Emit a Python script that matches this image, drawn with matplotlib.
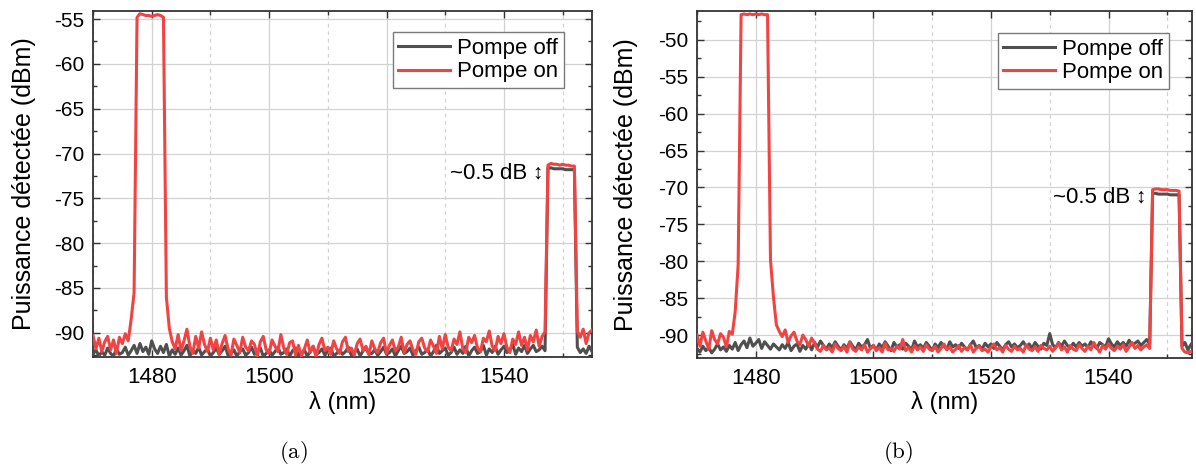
import numpy as np
import matplotlib
matplotlib.use("Agg")
import matplotlib.pyplot as plt
from matplotlib.ticker import MultipleLocator

plt.rcParams['font.family'] = ['Liberation Sans', 'DejaVu Sans']
plt.rcParams['axes.unicode_minus'] = False
plt.rcParams['mathtext.fontset'] = 'cm'

# wavelength grid (nm), 0.5 nm steps from 1470 to 1555
wavelength = np.arange(1470.0, 1555.01, 0.5)

# ---- panel (a) ----
a_pompe_off = [
    -92.4, -91.9, -92.6, -92.1, -92.5, -91.7, -92.3, -92.6, -91.8, -92.4,
    -92.2, -91.6, -92.5, -92.0, -91.4, -92.3, -91.2, -92.1, -91.6, -92.4,
    -90.9, -91.8, -92.3, -91.5, -92.2, -91.3, -92.6, -91.9, -92.4, -91.7,
    -92.5, -92.0, -91.4, -92.6, -91.9, -92.3, -91.6, -92.5, -92.1, -91.8,
    -92.6, -92.2, -91.7, -92.4, -92.0, -91.5, -92.5, -92.3, -91.9, -92.6,
    -92.1, -91.8, -92.5, -92.2, -91.6, -92.4, -92.0, -91.7, -92.6, -92.3,
    -91.9, -92.5, -92.1, -91.6, -92.4, -92.2, -91.8, -92.6, -92.0, -91.7,
    -92.5, -92.3, -91.9, -92.6, -92.1, -91.5, -92.4, -92.2, -91.8, -92.5,
    -92.0, -91.7, -92.6, -92.3, -91.9, -92.4, -92.1, -91.6, -92.5, -92.2,
    -91.8, -92.6, -92.0, -91.7, -92.4, -92.3, -91.9, -92.5, -92.1, -91.6,
    -92.4, -92.2, -91.8, -92.6, -92.0, -91.5, -92.3, -92.1, -91.7, -92.5,
    -92.0, -91.6, -92.4, -92.2, -91.8, -92.6, -92.1, -91.4, -92.3, -92.0,
    -91.7, -92.5, -92.2, -91.6, -92.4, -91.9, -92.3, -91.5, -92.6, -92.0,
    -91.6, -92.3, -92.1, -91.4, -92.5, -91.8, -92.2, -91.5, -92.4, -91.9,
    -91.5, -92.2, -92.0, -91.3, -92.4, -91.7, -92.1, -91.4, -92.3, -91.8,
    -91.4, -92.1, -91.9, -91.5, -92.0, -71.6, -71.6, -71.7, -71.7, -71.7,
    -71.7, -71.8, -71.8, -71.8, -71.8, -91.6, -92.2, -91.8, -92.3, -91.5,
    -92.1,
]
a_pompe_on = [
    -90.3, -91.8, -90.6, -92.1, -91.0, -90.4, -91.9, -90.8, -92.3, -90.5,
    -91.2, -90.1, -90.9, -88.5, -85.5, -54.8, -54.4, -54.5, -54.6, -54.6,
    -54.7, -54.6, -54.5, -54.6, -54.8, -86.0, -89.5, -91.0, -91.8, -90.2,
    -92.0, -90.9, -89.6, -91.5, -92.3, -90.4, -91.7, -89.9, -91.3, -92.1,
    -90.6, -91.9, -90.8, -92.4, -91.2, -90.3, -91.8, -92.5, -90.7, -91.4,
    -92.2, -90.5, -91.6, -92.0, -90.9, -91.3, -92.6, -91.0, -90.4, -91.9,
    -92.3, -90.8, -91.5, -92.1, -90.2, -91.7, -92.4, -91.1, -90.9, -92.5,
    -91.4, -92.6, -91.8, -90.8, -92.2, -91.5, -92.7, -91.3, -90.6, -92.0,
    -91.6, -92.4, -90.9, -91.8, -92.3, -91.0, -90.5, -92.1, -91.7, -92.5,
    -91.2, -90.7, -92.0, -91.5, -92.4, -90.9, -91.8, -92.2, -91.1, -90.6,
    -92.3, -91.4, -90.8, -92.0, -91.6, -90.5, -92.2, -91.3, -90.9, -91.9,
    -92.4, -91.0, -90.6, -91.7, -92.1, -90.8, -91.5, -92.3, -90.4, -91.8,
    -90.2, -91.6, -92.0, -90.7, -91.3, -89.9, -91.8, -92.2, -90.5, -91.1,
    -90.3, -91.7, -92.1, -90.6, -91.0, -89.8, -91.5, -92.0, -90.4, -91.2,
    -90.1, -91.6, -92.2, -90.7, -91.3, -89.9, -91.4, -90.5, -91.9, -90.3,
    -91.0, -89.7, -91.5, -90.4, -89.9, -71.3, -71.1, -71.2, -71.2, -71.3,
    -71.2, -71.3, -71.3, -71.4, -71.4, -89.8, -90.5, -89.6, -91.2, -90.0,
    -89.7,
]

# ---- panel (b) ----
b_pompe_off = [
    -91.8, -92.3, -91.5, -92.1, -91.7, -92.4, -91.9, -91.2, -92.0, -91.6,
    -92.2, -91.4, -91.9, -91.0, -92.1, -91.3, -90.8, -91.7, -90.4, -91.5,
    -91.1, -90.6, -91.8, -90.9, -91.4, -91.9, -91.2, -91.6, -92.0, -91.3,
    -91.8, -91.0, -92.1, -91.5, -91.2, -92.2, -91.4, -91.9, -91.1, -92.0,
    -91.0, -91.6, -90.8, -91.4, -91.9, -91.2, -91.7, -90.9, -91.5, -92.0,
    -91.3, -91.8, -90.9, -91.5, -92.0, -91.1, -91.6, -91.3, -90.6, -91.8,
    -91.4, -92.0, -91.2, -91.7, -90.9, -91.5, -92.1, -91.0, -91.6, -91.3,
    -91.9, -91.1, -91.5, -92.0, -90.8, -91.6, -91.3, -91.8, -91.0, -91.5,
    -92.1, -91.2, -91.7, -91.0, -91.5, -91.9, -90.9, -91.6, -91.3, -91.8,
    -91.1, -91.6, -92.0, -91.3, -90.8, -91.7, -91.4, -91.9, -91.1, -91.6,
    -91.2, -91.8, -91.0, -91.5, -92.0, -91.3, -90.9, -91.6, -91.2, -91.7,
    -91.4, -90.9, -91.6, -91.2, -91.8, -91.0, -91.5, -91.9, -91.1, -91.4,
    -89.8, -91.3, -91.7, -91.0, -91.5, -90.8, -91.4, -91.8, -91.1, -91.6,
    -91.0, -91.5, -91.2, -91.7, -90.9, -91.4, -91.8, -91.0, -91.3, -91.6,
    -90.5, -91.2, -91.6, -90.9, -91.4, -91.0, -91.5, -90.7, -91.3, -91.1,
    -90.8, -91.4, -91.0, -90.6, -91.2, -70.8, -70.8, -70.9, -70.9, -70.9,
    -70.9, -71.0, -71.0, -71.0, -71.0, -91.5, -91.0, -92.0, -91.3, -90.8,
    -91.6,
]
b_pompe_on = [
    -90.0, -91.5, -89.6, -90.8, -91.9, -89.4, -90.6, -91.2, -89.8, -90.3,
    -91.6, -89.5, -89.9, -86.8, -80.5, -46.6, -46.5, -46.6, -46.5, -46.6,
    -46.5, -46.6, -46.5, -46.6, -46.6, -79.8, -84.8, -88.6, -89.5, -90.2,
    -89.3, -91.0, -90.1, -89.6, -90.8, -91.3, -90.0, -90.6, -91.5, -90.4,
    -91.1, -91.9, -92.2, -91.4, -92.0, -91.7, -92.3, -91.2, -91.8, -92.1,
    -91.5, -92.3, -91.0, -91.9, -92.2, -91.6, -92.0, -91.3, -92.3, -91.8,
    -91.4, -92.1, -91.7, -92.3, -91.1, -92.0, -91.8, -92.2, -91.5, -91.9,
    -90.6, -92.1, -91.7, -92.3, -91.4, -92.0, -91.6, -92.2, -91.3, -91.9,
    -92.1, -91.5, -92.3, -91.8, -91.2, -92.0, -91.6, -92.3, -91.9, -91.4,
    -92.2, -91.7, -92.0, -91.3, -92.3, -91.8, -91.5, -92.1, -91.9, -92.3,
    -91.6, -91.2, -92.0, -91.7, -92.3, -91.4, -91.9, -92.2, -91.5, -92.0,
    -91.8, -92.3, -91.3, -91.9, -92.1, -91.6, -92.2, -91.4, -91.8, -92.0,
    -91.5, -92.2, -91.7, -91.1, -92.0, -91.6, -92.3, -91.4, -91.9, -92.1,
    -91.3, -91.8, -92.2, -91.5, -92.0, -91.0, -91.7, -92.3, -91.4, -91.9,
    -91.2, -91.8, -92.1, -91.5, -91.9, -91.3, -92.2, -91.6, -91.0, -91.8,
    -91.4, -92.0, -91.6, -91.3, -91.8, -70.3, -70.2, -70.2, -70.3, -70.3,
    -70.3, -70.4, -70.4, -70.4, -70.5, -91.8, -92.3, -92.4, -92.2, -92.3,
    -91.0,
]

labels = ["Pompe off", "Pompe on"]
annotation_text = "~0.5 dB"
panel_labels = ["(a)", "(b)"]

col_off = "#4f4f4f"
col_on = "#f24343"

W, H = 1196, 468
fig = plt.figure(figsize=(W / 100, H / 100), dpi=100)


def px_axes(x0, y0, x1, y1):
    return fig.add_axes([x0 / W, 1 - y1 / H, (x1 - x0) / W, (y1 - y0) / H])


panels = [
    dict(box=(93, 11, 592, 357), off=a_pompe_off, on=a_pompe_on,
         xlim=(1470, 1555), ylim=(-92.7, -54.1), yticks=np.arange(-90, -54, 5),
         leg=(0.944, 0.939), ann=(1544.0, -72.2), arr=(1545.8, -72.2),
         ylab_x=24, lab_x=293),
    dict(box=(697, 11, 1192, 358), off=b_pompe_off, on=b_pompe_on,
         xlim=(1470, 1554.2), ylim=(-93.1, -46.1), yticks=np.arange(-90, -49, 5),
         leg=(0.9535, 0.9366), ann=(1543.7, -71.3), arr=(1545.4, -71.3),
         ylab_x=626, lab_x=898),
]

for i, p in enumerate(panels):
    ax = px_axes(*p['box'])
    ax.plot(wavelength, p['off'], color=col_off, lw=2.2, label=labels[0], zorder=3)
    ax.plot(wavelength, p['on'], color=col_on, lw=2.2, label=labels[1], zorder=4)
    ax.set_xlim(*p['xlim'])
    ax.set_ylim(*p['ylim'])
    ax.xaxis.set_major_locator(MultipleLocator(20))
    ax.xaxis.set_minor_locator(MultipleLocator(10))
    ax.set_yticks(p['yticks'])
    ax.yaxis.set_minor_locator(MultipleLocator(2.5))
    ax.grid(which='major', color='#d2d2d2', lw=0.9, ls='-', zorder=0)
    ax.grid(which='minor', axis='x', color='#d2d2d2', lw=0.9, ls=(0, (3, 3)), zorder=0)
    ax.set_axisbelow(True)
    ax.tick_params(which='both', direction='in', top=True, right=True,
                   color='#333333', width=1.0)
    ax.tick_params(which='major', length=5)
    ax.tick_params(which='minor', length=3)
    ax.tick_params(axis='y', labelsize=15, pad=6)
    ax.tick_params(axis='x', labelsize=16, pad=7)
    for s in ax.spines.values():
        s.set_color('#333333')
        s.set_linewidth(1.3)
    leg = ax.legend(loc='upper right', bbox_to_anchor=p['leg'], borderaxespad=0,
                    fontsize=16, frameon=True, fancybox=False, framealpha=1,
                    edgecolor='#7a7a7a', handlelength=2.3, handletextpad=0.35,
                    borderpad=0.25, labelspacing=0.12)
    leg.get_frame().set_linewidth(1.0)
    ax.text(p['ann'][0], p['ann'][1], annotation_text, ha='right', va='center',
            fontsize=16)
    ax.text(p['arr'][0], p['arr'][1], "\u2195", ha='center', va='center',
            fontsize=15)
    fig.text(p['ylab_x'] / W, 1 - (p['box'][1] + p['box'][3]) / 2 / H,
             "Puissance détectée (dBm)", rotation=90, ha='center', va='center',
             fontsize=18)
    fig.text(((p['box'][0] + p['box'][2]) / 2) / W, 1 - 403 / H, "λ (nm)",
             ha='center', va='center', fontsize=17)
    fig.text(p['lab_x'] / W, 1 - 452 / H, r"$\mathrm{%s}$" % panel_labels[i],
             ha='center', va='center', fontsize=16.5)

fig.savefig("out.png", dpi=100)
